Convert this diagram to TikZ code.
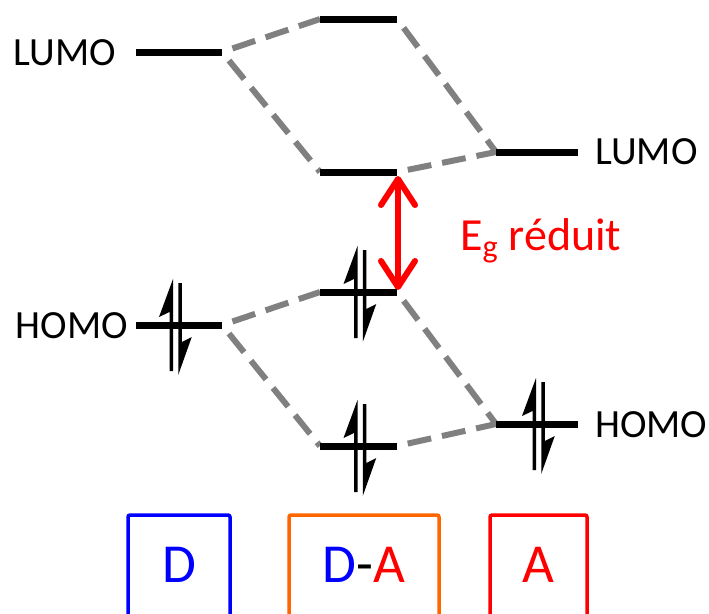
\documentclass[tikz,border=0pt]{standalone}
\usepackage{fontspec}
\setmainfont{Carlito}
\usetikzlibrary{arrows.meta}
\definecolor{dgray}{RGB}{128,128,128}
\definecolor{dblue}{RGB}{0,0,255}
\definecolor{dorange}{RGB}{255,102,0}
\definecolor{dred}{RGB}{255,0,0}
\tikzset{
  level/.style={line width=7pt, black},
  link/.style={dgray, line width=6pt, dash pattern=on 24pt off 11pt, dash phase=24pt},
  lbl/.style={inner sep=0pt, font=\fontsize{40}{46}\selectfont},
  boxlbl/.style={inner sep=0pt, font=\fontsize{55}{60}\selectfont},
  frame/.style={line width=3.5pt, rounded corners=2pt},
  spins/.pic={
    \fill (-2.5,-46) -- (-2.5,46) -- (-6,46) -- (-6,-13) -- (-16.5,-8) -- cycle;
    \fill (2.75,50) -- (2.75,-42) -- (6.25,-42) -- (6.25,17) -- (16.25,12) -- cycle;
  }
}
\begin{document}
\begin{tikzpicture}[x=1pt,y=-1pt]
\clip (0,0) rectangle (709,613);
% level end points
\coordinate (dLw) at (136,52);  \coordinate (dLe) at (222,52);
\coordinate (uLw) at (320,19);  \coordinate (uLe) at (397,19);
\coordinate (lLw) at (320,172); \coordinate (lLe) at (397,172);
\coordinate (aLw) at (496,152); \coordinate (aLe) at (578,152);
\coordinate (dHw) at (136,325); \coordinate (dHe) at (222,325);
\coordinate (uHw) at (320,292); \coordinate (uHe) at (397,292);
\coordinate (lHw) at (320,446); \coordinate (lHe) at (397,446);
\coordinate (aHw) at (496,424); \coordinate (aHe) at (578,424);
% dashed correlation lines
\draw[link] (dLe) -- (uLw);
\draw[link] (dLe) -- (lLw);
\draw[link] (uLe) -- (aLw);
\draw[link] (lLe) -- (aLw);
\draw[link] (dHe) -- (uHw);
\draw[link] (dHe) -- (lHw);
\draw[link] (uHe) -- (aHw);
\draw[link] (lHe) -- (aHw);
% levels
\draw[level] (dLw) -- (dLe);
\draw[level] (uLw) -- (uLe);
\draw[level] (lLw) -- (lLe);
\draw[level] (aLw) -- (aLe);
\draw[level] (dHw) -- (dHe);
\draw[level] (uHw) -- (uHe);
\draw[level] (lHw) -- (lHe);
\draw[level] (aHw) -- (aHe);
% electrons
\pic at (175.5,325) {spins};
\pic at (360,292) {spins};
\pic at (360,446) {spins};
\pic at (538.5,424) {spins};
% gap arrow
\coordinate (gt) at (398,176);
\coordinate (gb) at (398,290);
\draw[dred, line width=6pt, {Straight Barb[length=26pt,width=34pt,round]}-{Straight Barb[length=26pt,width=34pt,round]}] (gt) -- (gb);
\node[inner sep=0pt, anchor=base west, text=dred, font=\fontsize{46}{52}\selectfont] (eg) at (460,250) {E\textsubscript{g} réduit};
% labels
\node[lbl, anchor=base east] (lumoD) at (116,65) {LUMO};
\node[lbl, anchor=base west] (lumoA) at (595,164.5) {LUMO};
\node[lbl, anchor=base east] (homoD) at (128,338) {HOMO};
\node[lbl, anchor=base west] (homoA) at (595,437) {HOMO};
% boxes
\draw[frame, dblue] (128,515) rectangle (230,640);
\draw[frame, dorange] (289,515) rectangle (439,640);
\draw[frame, dred] (490,515) rectangle (587,640);
\node[boxlbl, anchor=base, text=dblue] (tD) at (179,582) {D};
\node[boxlbl, anchor=base] (tDA) at (364,582) {\textcolor{dblue}{D}-\textcolor{dred}{A}};
\node[boxlbl, anchor=base, text=dred] (tA) at (538.5,582) {A};
\end{tikzpicture}
\end{document}
